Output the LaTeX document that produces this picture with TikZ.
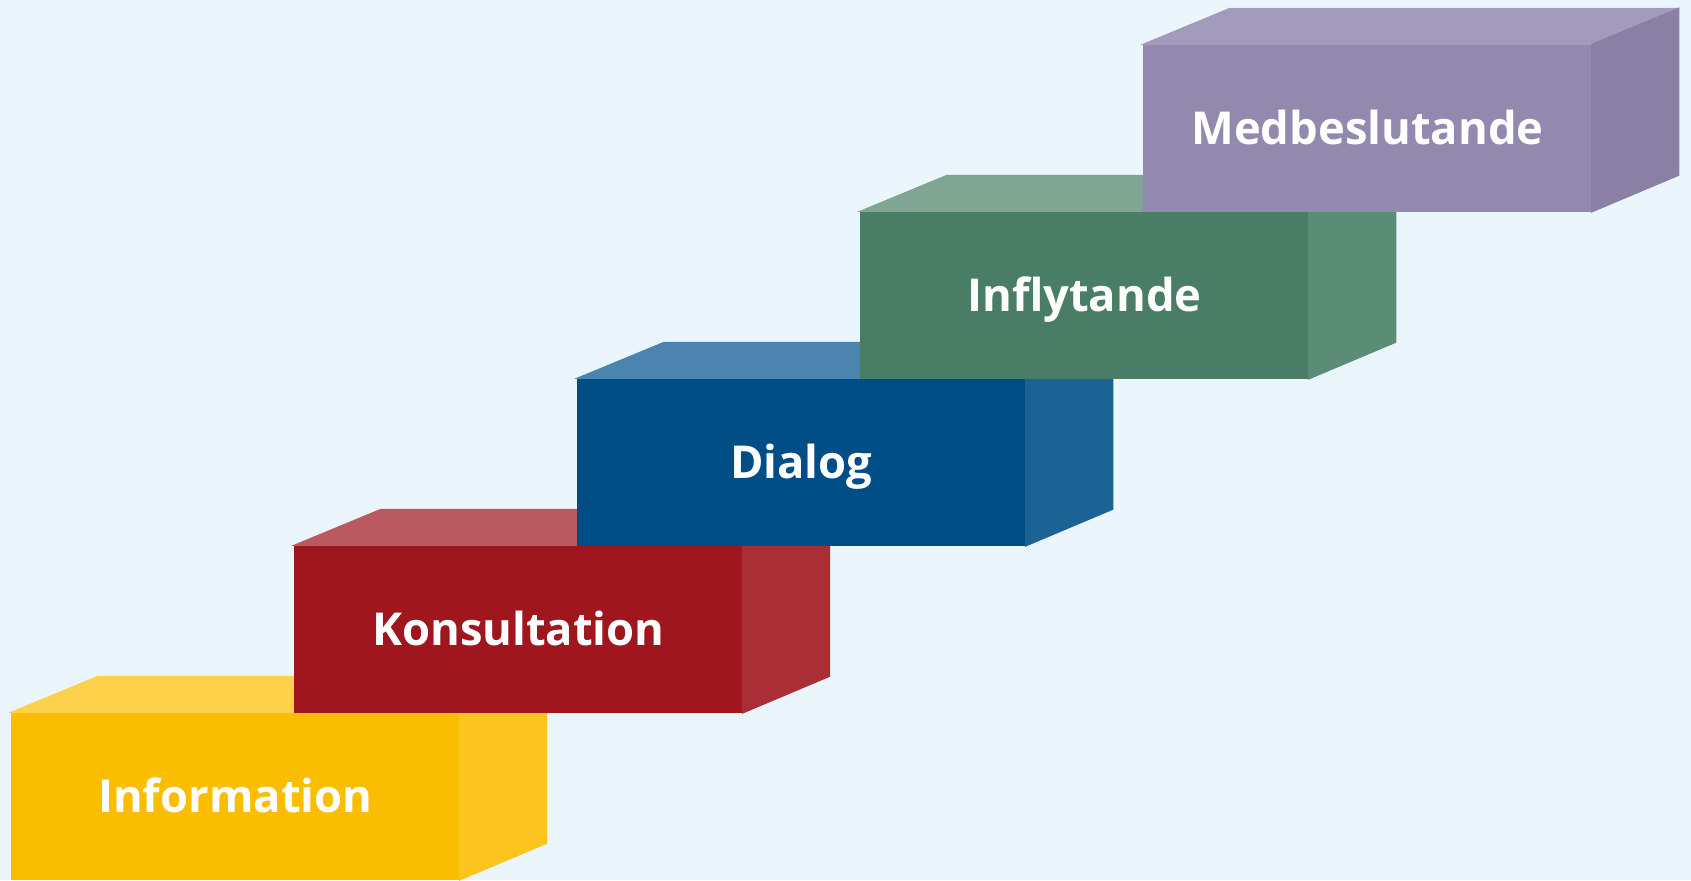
\documentclass[tikz,border=0pt]{standalone}
\usepackage{fontspec}
\setmainfont{Open Sans}
\usepackage{tikz}
\usetikzlibrary{positioning,calc}
\definecolor{skyback}{RGB}{234,245,252}
\definecolor{infofront}{RGB}{251,189,0}
\definecolor{infotop}{RGB}{253,210,74}
\definecolor{infoside}{RGB}{252,196,31}
\definecolor{konsfront}{RGB}{160,22,31}
\definecolor{konstop}{RGB}{187,89,97}
\definecolor{konsside}{RGB}{169,46,53}
\definecolor{dialfront}{RGB}{0,78,133}
\definecolor{dialtop}{RGB}{75,133,175}
\definecolor{dialside}{RGB}{28,99,149}
\definecolor{inflfront}{RGB}{74,125,101}
\definecolor{infltop}{RGB}{128,165,146}
\definecolor{inflside}{RGB}{91,140,118}
\definecolor{medbfront}{RGB}{147,136,173}
\definecolor{medbtop}{RGB}{163,155,189}
\definecolor{medbside}{RGB}{138,128,165}

\begin{document}
\begin{tikzpicture}[x=0.2mm, y=0.2mm,
    stepfront/.style={anchor=south west, inner sep=0pt, minimum width=89.6mm, minimum height=33.4mm,
        text=white, text height=19pt, text depth=0pt, font=\bfseries\fontsize{25.8}{30}\selectfont},
    stepface/.style={fill=#1, draw=#1, line width=0.6pt, line join=miter}]
    % Background
    \fill[skyback] (0,0) rectangle (1691,880);
    \useasboundingbox (0,0) rectangle (1691,880);

    % Information
    \node[stepfront, fill=infofront] (info) at (11,0) {Information};
    \filldraw[stepface=infotop] (info.north west) -- ++(87,36) -- ++(448,0) -- (info.north east) -- cycle;
    \filldraw[stepface=infoside] (info.north east) -- ++(87,36) -- ++(0,-167) -- (info.south east) -- cycle;

    % Konsultation
    \node[stepfront, fill=konsfront] (kons) at (294,167) {Konsultation};
    \filldraw[stepface=konstop] (kons.north west) -- ++(87,36) -- ++(448,0) -- (kons.north east) -- cycle;
    \filldraw[stepface=konsside] (kons.north east) -- ++(87,36) -- ++(0,-167) -- (kons.south east) -- cycle;

    % Dialog
    \node[stepfront, fill=dialfront] (dial) at (577,334) {Dialog};
    \filldraw[stepface=dialtop] (dial.north west) -- ++(87,36) -- ++(448,0) -- (dial.north east) -- cycle;
    \filldraw[stepface=dialside] (dial.north east) -- ++(87,36) -- ++(0,-167) -- (dial.south east) -- cycle;

    % Inflytande
    \node[stepfront, fill=inflfront] (infl) at (860,501) {Inflytande};
    \filldraw[stepface=infltop] (infl.north west) -- ++(87,36) -- ++(448,0) -- (infl.north east) -- cycle;
    \filldraw[stepface=inflside] (infl.north east) -- ++(87,36) -- ++(0,-167) -- (infl.south east) -- cycle;

    % Medbeslutande
    \node[stepfront, fill=medbfront] (medb) at (1143,668) {Medbeslutande};
    \filldraw[stepface=medbtop] (medb.north west) -- ++(87,36) -- ++(448,0) -- (medb.north east) -- cycle;
    \filldraw[stepface=medbside] (medb.north east) -- ++(87,36) -- ++(0,-167) -- (medb.south east) -- cycle;
\end{tikzpicture}
\end{document}
